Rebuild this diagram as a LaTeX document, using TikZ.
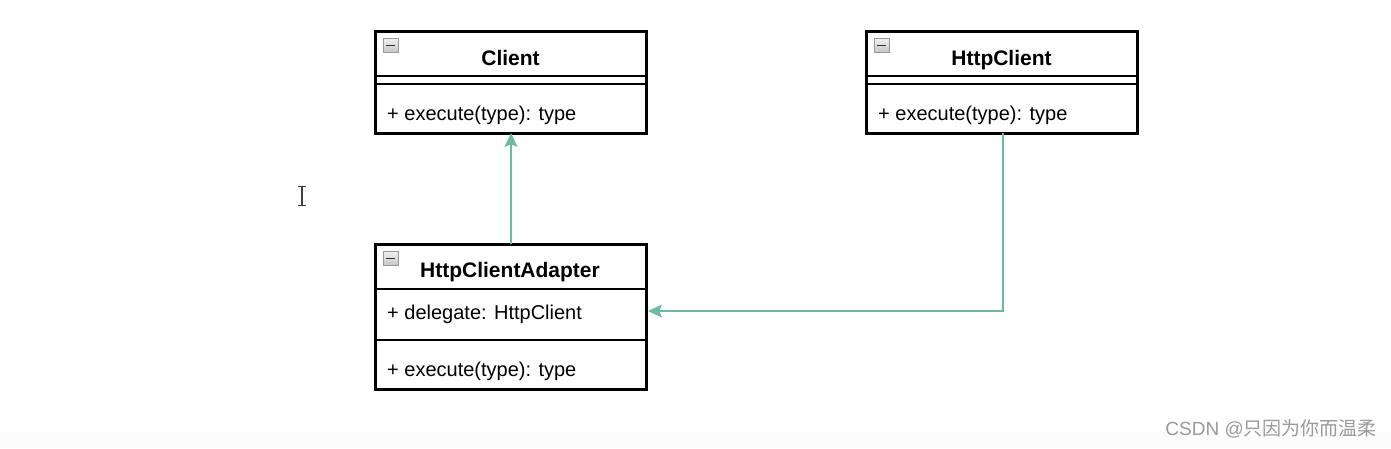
\documentclass[tikz,border=0pt]{standalone}
\usepackage{fontspec}
\setmainfont{Liberation Sans}
\newfontfamily\cjk{Noto Sans CJK SC}
\usetikzlibrary{arrows.meta}
\definecolor{conn}{HTML}{6DB9A3}
\definecolor{wm}{HTML}{9A9A9A}
\tikzset{
  box/.style={draw=black, line width=3pt, fill=white},
  sep/.style={draw=black, line width=2.2pt},
  title/.style={font=\fontsize{21}{24}\selectfont\bfseries, inner sep=0pt, anchor=base},
  member/.style={font=\fontsize{20}{23}\selectfont, inner sep=0pt, anchor=base west},
  link/.style={draw=conn, line width=1.6pt, -{Stealth[length=14pt,width=13pt,inset=3pt]}},
  icon/.style={draw=gray!80, line width=0.7pt, top color=gray!10, bottom color=gray!45},
}
\begin{document}
\begin{tikzpicture}[x=1pt,y=-1pt]
\useasboundingbox (0,0) rectangle (1391,448);
\fill[white] (0,0) rectangle (1391,448);
\fill[black!1] (0,432) rectangle (1391,448);

% Client
\draw[box] (375,31) rectangle (646,133);
\coordinate (clientS) at (511,133);
\draw[sep] (375,76) -- (646,76);
\draw[sep] (375,84) -- (646,84);
\shade[icon] (383,38) rectangle (398,52);
\draw[line width=1.8pt, black!80] (386,45.5) -- (395,45.5);
\node[title] (clientT) at (510.5,65) {Client};
\node[member] (clientM) at (387,120) {+ execute(type): type};

% HttpClient
\draw[box] (866,31) rectangle (1137,133);
\coordinate (httpS) at (1003,133);
\draw[sep] (866,76) -- (1137,76);
\draw[sep] (866,84) -- (1137,84);
\shade[icon] (874,38) rectangle (889,52);
\draw[line width=1.8pt, black!80] (877,45.5) -- (886,45.5);
\node[title] (httpT) at (1001.5,65) {HttpClient};
\node[member] (httpM) at (878,120) {+ execute(type): type};

% HttpClientAdapter
\draw[box] (375,244) rectangle (646,389);
\coordinate (adN) at (511,244);
\coordinate (adE) at (648,311);
\draw[sep] (375,289) -- (646,289);
\draw[sep] (375,340) -- (646,340);
\shade[icon] (383,251) rectangle (398,265);
\draw[line width=1.8pt, black!80] (386,258.5) -- (395,258.5);
\node[title] (adT) at (510,277) {HttpClientAdapter};
\node[member] (adA) at (387,319) {+ delegate: HttpClient};
\node[member] (adM) at (387,376) {+ execute(type): type};

% connectors
\draw[link] (adN) -- (clientS);
\draw[link] (httpS) |- (adE);

% text cursor
\draw[line width=1.3pt, black!75] (302,186) -- (302,205);
\draw[line width=1pt, black!80] (298,186) -- (306,186) (298,205) -- (306,205);

% watermark
\node[font=\fontsize{19}{22}\selectfont, text=wm, anchor=east, inner sep=0pt] (wmark) at (1377,429) {CSDN @{\cjk 只因为你而温柔}};
\end{tikzpicture}
\end{document}
